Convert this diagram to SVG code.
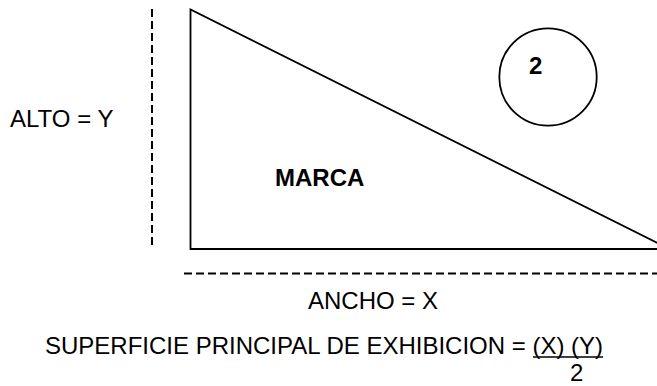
<svg xmlns="http://www.w3.org/2000/svg" width="657" height="386" viewBox="0 0 657 386">
<style>
text{font-family:"Liberation Sans",Arial,sans-serif;font-size:24px;fill:#000}
.b{font-weight:bold}
.shape{fill:none;stroke:#000;stroke-width:1.8}
.dash{fill:none;stroke:#000;stroke-width:2;stroke-dasharray:8 4}
</style>
<rect width="657" height="386" fill="#fff"/>
<g id="connectors">
<line class="dash" x1="152" y1="9" x2="152" y2="246"/>
<line class="dash" x1="184" y1="273.5" x2="657" y2="273.5"/>
</g>
<g id="triangle">
<polygon class="shape" points="190.5,9.5 190.5,249 669.5,249"/>
<text class="b" x="275" y="186">MARCA</text>
</g>
<g id="circle">
<circle class="shape" cx="548" cy="77" r="48.7"/>
<text class="b" x="529" y="74">2</text>
</g>
<g id="alto">
<text x="10" y="127">ALTO = Y</text>
</g>
<g id="ancho">
<text x="308" y="309">ANCHO = X</text>
</g>
<g id="formula">
<text x="45" y="354">SUPERFICIE PRINCIPAL DE EXHIBICION = (X) (Y)</text>
<line x1="533" y1="357" x2="603" y2="357" stroke="#000" stroke-width="1.6"/>
<text x="570" y="381">2</text>
</g>
</svg>
